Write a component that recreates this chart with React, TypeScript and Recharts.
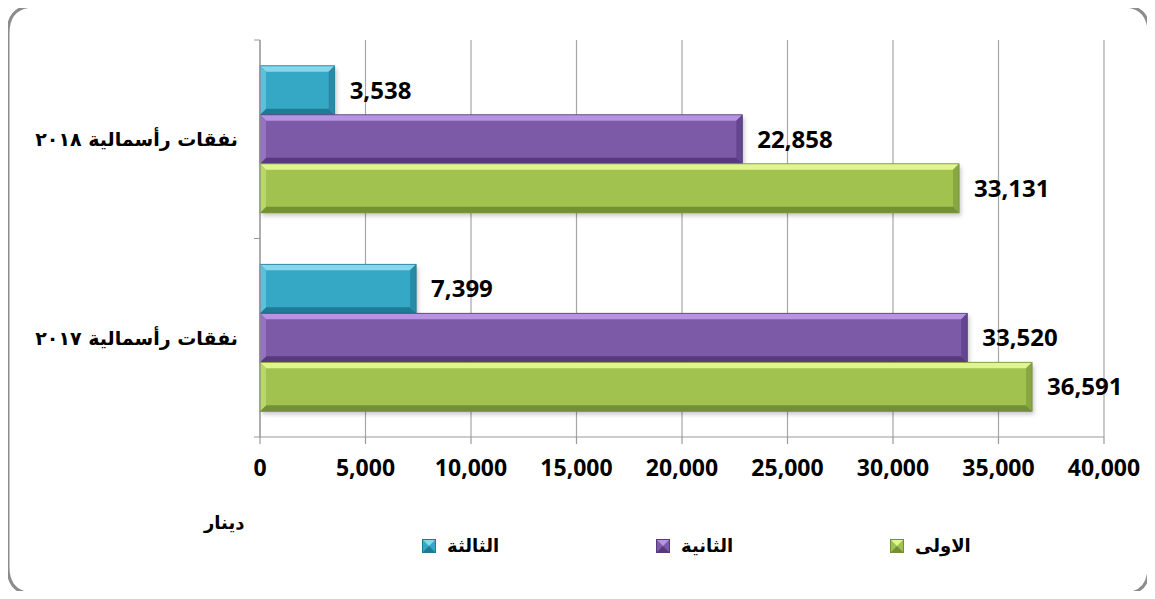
import { BarChart, Bar, XAxis, YAxis, CartesianGrid, Legend, LabelList } from 'recharts';

const categories = ['نفقات رأسمالية ٢٠١٨', 'نفقات رأسمالية ٢٠١٧'];
const third = [3538, 7399];
const second = [22858, 33520];
const first = [33131, 36591];
const xTicks = [0, 5000, 10000, 15000, 20000, 25000, 30000, 35000, 40000];

const seriesOrder = ['third', 'second', 'first'] as const;
const seriesNames = { third: 'الثالثة', second: 'الثانية', first: 'الاولى' };

const data = categories.map((name, i) => ({
  name,
  third: third[i],
  second: second[i],
  first: first[i],
}));

const palette: Record<string, { body: string; light: string; dark: string; left: string; right: string }> = {
  third: { body: '#35a8c6', light: '#86d6ec', dark: '#1e7b94', left: '#5cc0dc', right: '#288ba6' },
  second: { body: '#7c5aa7', light: '#b794e2', dark: '#563a7c', left: '#9473c0', right: '#634590' },
  first: { body: '#a1c24f', light: '#e0f58e', dark: '#738f37', left: '#b9d66a', right: '#88a642' },
};

const numFont = '"Open Sans", sans-serif';
const arFont = '"DejaVu Sans", sans-serif';

const fmt = (v: any) => Number(v).toLocaleString('en-US');

const bevelShape = (key: string) => (props: any) => {
  const { x, y, width, height } = props;
  if (!width || width <= 0) return <g />;
  const c = palette[key];
  const b = Math.min(6, width / 2, height / 2);
  const r = x + width;
  const btm = y + height;
  return (
    <g>
      <rect x={x + 2} y={y + 3} width={width} height={height} fill="rgba(0,0,0,0.22)" filter="url(#barShadow)" />
      <rect x={x} y={y} width={width} height={height} fill={c.body} />
      <polygon points={`${x},${y} ${r},${y} ${r - b},${y + b} ${x + b},${y + b}`} fill={c.light} />
      <polygon points={`${x},${btm} ${r},${btm} ${r - b},${btm - b} ${x + b},${btm - b}`} fill={c.dark} />
      <polygon points={`${x},${y} ${x + b},${y + b} ${x + b},${btm - b} ${x},${btm}`} fill={c.left} />
      <polygon points={`${r},${y} ${r - b},${y + b} ${r - b},${btm - b} ${r},${btm}`} fill={c.right} />
      <rect x={x} y={y} width={width} height={height} fill="none" stroke={c.dark} strokeWidth={0.8} />
    </g>
  );
};

const CategoryTick = (props: any) => {
  const { x, y, payload } = props;
  const off = payload && typeof payload.offset === 'number' && payload.offset > 0 ? payload.offset : 99;
  return (
    <g>
      <line x1={x - 6} x2={x} y1={y - off} y2={y - off} stroke="#9a9a9a" />
      <line x1={x - 6} x2={x} y1={y + off} y2={y + off} stroke="#9a9a9a" />
      <text x={x - 22} y={y} dy={7} textAnchor="end" fontFamily={arFont} fontWeight="bold" fontSize={19} fill="#000">
        {payload.value}
      </text>
    </g>
  );
};

const LegendMarker = ({ k }: { k: string }) => {
  const c = palette[k];
  return (
    <svg width={14} height={14} style={{ display: 'block' }}>
      <rect x={0} y={0} width={14} height={14} fill={c.body} />
      <polygon points="0,0 14,0 7,7" fill={c.light} />
      <polygon points="0,14 14,14 7,7" fill={c.dark} />
      <rect x={0.5} y={0.5} width={13} height={13} fill="none" stroke={c.dark} strokeWidth={1} />
    </svg>
  );
};

const renderLegend = () => (
  <div style={{ display: 'flex' }}>
    {seriesOrder.map((k) => (
      <div key={k} style={{ width: 234, display: 'flex', alignItems: 'center' }}>
        <LegendMarker k={k} />
        <span style={{ marginLeft: 11, fontFamily: arFont, fontWeight: 'bold', fontSize: 18, color: '#000' }}>
          {seriesNames[k]}
        </span>
      </div>
    ))}
  </div>
);

export default function App() {
  return (
    <div style={{ position: 'relative', width: 1155, height: 599, margin: -8, background: '#fff', overflow: 'hidden' }}>
      <div
        style={{
          position: 'absolute',
          left: 204,
          top: 512,
          fontFamily: arFont,
          fontWeight: 'bold',
          fontSize: 18,
          color: '#000',
        }}
      >
        دينار
      </div>
      <div style={{ position: 'absolute', left: 0, top: 0 }}>
        <BarChart
          width={1155}
          height={599}
          data={data}
          layout="vertical"
          margin={{ top: 40, right: 51, bottom: 132, left: 0 }}
          barCategoryGap="13%"
          barGap={0}
        >
          <defs>
            <filter id="barShadow" x="-5%" y="-20%" width="110%" height="140%">
              <feGaussianBlur stdDeviation="2" />
            </filter>
          </defs>
          <CartesianGrid horizontal={false} stroke="#a6a6a6" strokeWidth={1.2} />
          <XAxis
            type="number"
            domain={[0, 40000]}
            ticks={xTicks}
            interval={0}
            height={30}
            axisLine={{ stroke: '#9a9a9a', strokeWidth: 1.2 }}
            tickLine={{ stroke: '#9a9a9a', strokeWidth: 1.2 }}
            tickSize={7}
            tickMargin={16}
            tickFormatter={fmt}
            tick={{ fontFamily: numFont, fontWeight: 'bold', fontSize: 23, fill: '#000' }}
          />
          <YAxis
            type="category"
            dataKey="name"
            width={260}
            axisLine={{ stroke: '#9a9a9a', strokeWidth: 1.2 }}
            tickLine={false}
            tickSize={0}
            tickMargin={0}
            tick={<CategoryTick />}
          />
          <Legend
            layout="horizontal"
            verticalAlign="middle"
            align="center"
            wrapperStyle={{ top: 535, left: 422, width: 720 }}
            content={renderLegend}
          />
          {seriesOrder.map((k) => (
            <Bar
              key={k}
              dataKey={k}
              name={seriesNames[k]}
              fill={palette[k].body}
              shape={bevelShape(k)}
              isAnimationActive={false}
            >
              <LabelList
                dataKey={k}
                position="right"
                offset={15}
                formatter={fmt}
                style={{ fontFamily: numFont, fontWeight: 'bold', fontSize: 24, fill: '#000' }}
              />
            </Bar>
          ))}
        </BarChart>
      </div>
      <svg
        width={1155}
        height={599}
        style={{ position: 'absolute', left: 0, top: 0, pointerEvents: 'none' }}
      >
        <path
          d="M 35 6 L 1122 6 Q 1149 6 1149 33 L 1149 567 Q 1149 594 1122 594 L 35 594 Q 8 594 8 567 L 8 33 Q 8 6 35 6 Z"
          fill="none"
          stroke="#8c8c8c"
          strokeWidth={3}
        />
      </svg>
    </div>
  );
}
